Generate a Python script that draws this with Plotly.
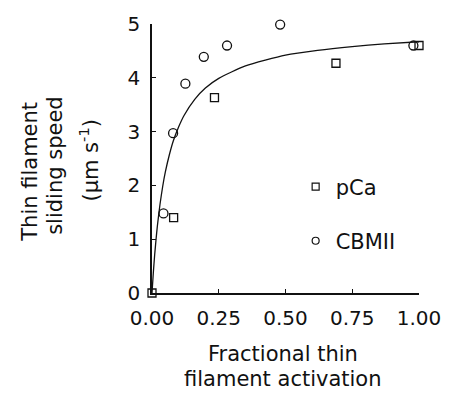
import plotly.graph_objects as go

# ---- data ----
pca_x = [0.0, 0.081, 0.234, 0.689, 1.0]
pca_y = [0.0, 1.40, 3.63, 4.27, 4.60]

cbm_x = [0.043, 0.079, 0.125, 0.194, 0.281, 0.48, 0.979]
cbm_y = [1.48, 2.97, 3.89, 4.39, 4.60, 4.99, 4.60]

# fitted curve, points
fit_x = [0.0, 0.005, 0.01, 0.015, 0.02, 0.03, 0.04, 0.05, 0.065, 0.08, 0.1, 0.12,
         0.16, 0.2, 0.25, 0.35, 0.5, 0.62, 0.75, 0.87, 1.0]
fit_y = [0.0, 0.38, 0.71, 0.99, 1.24, 1.65, 1.98, 2.25, 2.57, 2.83, 3.09, 3.30,
         3.60, 3.81, 3.99, 4.22, 4.42, 4.51, 4.58, 4.63, 4.67]

x_ticks = [0.0, 0.25, 0.5, 0.75, 1.0]
y_ticks = [0, 1, 2, 3, 4, 5]

FONT = "DejaVu Sans"
INK = "#111111"

fig = go.Figure()

fig.add_trace(go.Scatter(x=fit_x, y=fit_y, mode="lines",
                         line=dict(color=INK, width=1.3, shape="spline", smoothing=0.6),
                         showlegend=False, hoverinfo="skip", cliponaxis=False))
fig.add_trace(go.Scatter(x=pca_x, y=pca_y, mode="markers", showlegend=False,
                         marker=dict(symbol="square-open", size=8, color=INK,
                                     line=dict(width=1.3, color=INK)),
                         cliponaxis=False))
fig.add_trace(go.Scatter(x=cbm_x, y=cbm_y, mode="markers", showlegend=False,
                         marker=dict(symbol="circle-open", size=9, color=INK,
                                     line=dict(width=1.3, color=INK)),
                         cliponaxis=False))

# legend entries
fig.add_trace(go.Scatter(x=[None], y=[None], mode="markers", name="pCa", legend="legend",
                         marker=dict(symbol="square-open", size=7, color=INK,
                                     line=dict(width=1.2, color=INK))))
fig.add_trace(go.Scatter(x=[None], y=[None], mode="markers", name="CBMII", legend="legend2",
                         marker=dict(symbol="circle-open", size=7, color=INK,
                                     line=dict(width=1.2, color=INK))))

axis_common = dict(showline=True, linecolor=INK, linewidth=1.6, ticks="inside",
                   ticklen=4, tickwidth=1.2, tickcolor=INK, showgrid=False,
                   zeroline=False, tickfont=dict(family=FONT, size=20, color=INK))

fig.update_xaxes(range=[0, 1], tickvals=x_ticks, tickformat=".2f",
                 ticklabelstandoff=6, **axis_common)
fig.update_yaxes(range=[0, 5], tickvals=y_ticks, ticklabelstandoff=6, **axis_common)

leg_common = dict(font=dict(family=FONT, size=21, color=INK), bgcolor="rgba(0,0,0,0)",
                  xanchor="left", yanchor="middle", itemsizing="trace")

ann_font = dict(family=FONT, size=21, color=INK)
annotations = [
    dict(text="Thin filament", x=-0.455, y=0.449, textangle=-90),
    dict(text="sliding speed", x=-0.362, y=0.474, textangle=-90),
    dict(text="(μm s<sup>-1</sup>)", x=-0.236, y=0.496, textangle=-90),
    dict(text="Fractional thin", x=0.49, y=-0.226, textangle=0),
    dict(text="filament activation", x=0.49, y=-0.321, textangle=0),
]
for a in annotations:
    a.update(xref="paper", yref="paper", showarrow=False, font=ann_font,
             xanchor="center", yanchor="middle")

fig.update_layout(
    width=453, height=395,
    margin=dict(l=152, r=26, t=19, b=102),
    paper_bgcolor="white", plot_bgcolor="white",
    legend=dict(x=0.538, y=0.394, **leg_common),
    legend2=dict(x=0.538, y=0.193, **leg_common),
    annotations=annotations,
)

fig.write_html("out.html")
